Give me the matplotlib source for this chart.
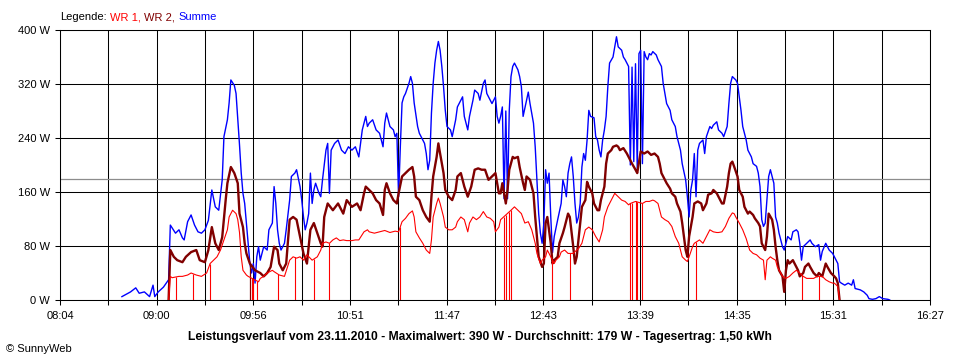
import matplotlib
matplotlib.use("Agg")
import matplotlib.pyplot as plt
import numpy as np

summe = [
    ("08:40", 5), ("08:45", 12), ("08:48", 18), ("08:50", 10), ("08:53", 12), ("08:56", 5),
    ("08:58", 22), ("08:59", 5), ("09:01", 12), ("09:04", 19), ("09:07", 30), ("09:08", 111),
    ("09:09", 107), ("09:11", 99), ("09:13", 104), ("09:15", 92), ("09:16", 89), ("09:18", 116),
    ("09:20", 126), ("09:22", 111), ("09:24", 101), ("09:26", 99), ("09:28", 104), ("09:30", 118),
    ("09:32", 163), ("09:34", 138), ("09:36", 133), ("09:38", 178), ("09:39", 242), ("09:41", 267),
    ("09:42", 292), ("09:43", 326), ("09:45", 318), ("09:46", 306), ("09:48", 230), ("09:49", 188),
    ("09:50", 158), ("09:51", 143), ("09:52", 114), ("09:53", 84), ("09:54", 54), ("09:55", 40),
    ("09:56", 54), ("09:57", 25), ("09:58", 64), ("09:59", 79), ("10:00", 59), ("10:01", 69),
    ("10:02", 79), ("10:04", 74), ("10:05", 104), ("10:07", 114), ("10:08", 168), ("10:09", 143),
    ("10:10", 104), ("10:11", 84), ("10:12", 74), ("10:14", 84), ("10:15", 104), ("10:17", 148),
    ("10:18", 183), ("10:20", 188), ("10:21", 193), ("10:23", 168), ("10:24", 148), ("10:25", 123),
    ("10:26", 104), ("10:27", 114), ("10:28", 128), ("10:29", 188), ("10:30", 143), ("10:31", 163),
    ("10:32", 173), ("10:34", 158), ("10:35", 153), ("10:36", 178), ("10:38", 222), ("10:39", 232),
    ("10:40", 158), ("10:41", 222), ("10:43", 232), ("10:45", 237), ("10:47", 222), ("10:49", 217),
    ("10:51", 227), ("10:53", 222), ("10:55", 227), ("10:57", 212), ("10:58", 232), ("10:59", 252),
    ("11:01", 272), ("11:02", 257), ("11:03", 262), ("11:05", 267), ("11:07", 252), ("11:09", 247),
    ("11:11", 227), ("11:12", 262), ("11:13", 277), ("11:15", 257), ("11:17", 252), ("11:18", 242),
    ("11:19", 247), ("11:20", 153), ("11:21", 227), ("11:22", 292), ("11:23", 301), ("11:24", 306),
    ("11:26", 321), ("11:27", 331), ("11:28", 321), ("11:29", 292), ("11:31", 257), ("11:32", 247),
    ("11:33", 242), ("11:35", 232), ("11:36", 217), ("11:37", 193), ("11:38", 207), ("11:39", 277),
    ("11:40", 321), ("11:41", 351), ("11:42", 370), ("11:43", 383), ("11:44", 370), ("11:45", 346),
    ("11:46", 316), ("11:47", 281), ("11:48", 257), ("11:50", 252), ("11:51", 242), ("11:53", 267),
    ("11:54", 286), ("11:56", 296), ("11:57", 301), ("11:58", 272), ("12:00", 252), ("12:01", 272),
    ("12:03", 296), ("12:04", 311), ("12:06", 306), ("12:07", 296), ("12:09", 321), ("12:10", 326),
    ("12:11", 306), ("12:13", 296), ("12:14", 291), ("12:16", 301), ("12:17", 272), ("12:18", 262),
    ("12:19", 272), ("12:20", 286), ("12:21", 150), ("12:22", 280), ("12:23", 150), ("12:24", 281),
    ("12:25", 331), ("12:26", 346), ("12:27", 351), ("12:29", 341), ("12:30", 331), ("12:31", 316),
    ("12:32", 272), ("12:34", 296), ("12:35", 308), ("12:36", 291), ("12:38", 262), ("12:39", 227),
    ("12:40", 178), ("12:41", 128), ("12:42", 99), ("12:43", 84), ("12:44", 114), ("12:45", 193),
    ("12:46", 173), ("12:47", 188), ("12:48", 123), ("12:49", 70), ("12:50", 94), ("12:52", 119),
    ("12:54", 143), ("12:55", 178), ("12:56", 168), ("12:57", 153), ("12:58", 188), ("12:59", 202),
    ("13:00", 212), ("13:01", 183), ("13:02", 143), ("13:03", 114), ("13:04", 123), ("13:05", 143),
    ("13:06", 197), ("13:07", 217), ("13:08", 207), ("13:09", 237), ("13:10", 281), ("13:11", 272),
    ("13:13", 270), ("13:14", 242), ("13:15", 237), ("13:16", 222), ("13:17", 212), ("13:18", 237),
    ("13:19", 252), ("13:20", 272), ("13:21", 316), ("13:22", 351), ("13:24", 360), ("13:25", 375),
    ("13:26", 390), ("13:27", 375), ("13:29", 370), ("13:30", 360), ("13:31", 356), ("13:33", 346),
    ("13:34", 200), ("13:35", 345), ("13:36", 205), ("13:37", 350), ("13:38", 195), ("13:39", 365),
    ("13:40", 370), ("13:41", 202), ("13:42", 368), ("13:43", 360), ("13:44", 356), ("13:45", 365),
    ("13:46", 363), ("13:47", 368), ("13:49", 363), ("13:50", 356), ("13:52", 346), ("13:53", 321),
    ("13:54", 306), ("13:55", 291), ("13:57", 281), ("13:58", 267), ("14:00", 257), ("14:01", 242),
    ("14:03", 222), ("14:04", 202), ("14:06", 178), ("14:07", 153), ("14:08", 123), ("14:09", 163),
    ("14:10", 178), ("14:11", 217), ("14:12", 153), ("14:13", 222), ("14:14", 232), ("14:16", 237),
    ("14:17", 217), ("14:18", 242), ("14:20", 257), ("14:21", 254), ("14:22", 259), ("14:24", 264),
    ("14:25", 252), ("14:27", 247), ("14:28", 242), ("14:30", 257), ("14:31", 291), ("14:32", 321),
    ("14:33", 331), ("14:35", 326), ("14:36", 321), ("14:37", 301), ("14:38", 281), ("14:39", 257),
    ("14:41", 237), ("14:42", 222), ("14:44", 212), ("14:45", 202), ("14:47", 198), ("14:48", 188),
    ("14:49", 168), ("14:50", 119), ("14:51", 109), ("14:52", 114), ("14:53", 148), ("14:54", 183),
    ("14:55", 193), ("14:56", 183), ("14:57", 173), ("14:58", 123), ("14:59", 114), ("15:00", 99),
    ("15:02", 79), ("15:03", 74), ("15:04", 84), ("15:05", 94), ("15:07", 89), ("15:08", 101),
    ("15:10", 104), ("15:11", 101), ("15:12", 84), ("15:13", 59), ("15:14", 79), ("15:16", 84),
    ("15:18", 89), ("15:19", 84), ("15:21", 79), ("15:23", 82), ("15:24", 59), ("15:25", 72),
    ("15:27", 84), ("15:29", 74), ("15:31", 69), ("15:32", 64), ("15:34", 54), ("15:35", 27),
    ("15:36", 25), ("15:38", 22), ("15:40", 25), ("15:42", 22), ("15:43", 30), ("15:44", 17),
    ("15:47", 15), ("15:49", 12), ("15:51", 7), ("15:52", 2), ("15:54", 1), ("15:56", 2),
    ("15:58", 5), ("16:00", 2), ("16:03", 1), ("16:04", 0),
]

wr2 = [
    ("09:07", 0), ("09:08", 74), ("09:10", 64), ("09:12", 59), ("09:15", 56), ("09:17", 64),
    ("09:20", 71), ("09:23", 74), ("09:25", 59), ("09:28", 56), ("09:30", 74), ("09:32", 108),
    ("09:34", 84), ("09:36", 74), ("09:38", 93), ("09:40", 148), ("09:41", 173), ("09:43", 197),
    ("09:45", 188), ("09:47", 173), ("09:48", 128), ("09:50", 108), ("09:51", 84), ("09:52", 69),
    ("09:54", 54), ("09:57", 44), ("10:00", 40), ("10:02", 35), ("10:04", 40), ("10:06", 49),
    ("10:08", 79), ("10:10", 74), ("10:11", 54), ("10:13", 44), ("10:15", 54), ("10:17", 119),
    ("10:19", 123), ("10:21", 119), ("10:23", 94), ("10:25", 69), ("10:27", 54), ("10:29", 104),
    ("10:31", 114), ("10:33", 99), ("10:35", 84), ("10:36", 79), ("10:37", 123), ("10:39", 143),
    ("10:42", 133), ("10:45", 143), ("10:48", 128), ("10:50", 148), ("10:53", 138), ("10:56", 143),
    ("10:58", 133), ("11:00", 158), ("11:01", 168), ("11:03", 163), ("11:05", 158), ("11:07", 148),
    ("11:09", 143), ("11:11", 126), ("11:12", 163), ("11:13", 173), ("11:15", 158), ("11:17", 148),
    ("11:19", 143), ("11:20", 158), ("11:22", 183), ("11:24", 188), ("11:26", 193), ("11:28", 197),
    ("11:29", 183), ("11:30", 153), ("11:32", 148), ("11:34", 133), ("11:36", 123), ("11:38", 116),
    ("11:39", 153), ("11:40", 183), ("11:42", 212), ("11:43", 232), ("11:44", 217), ("11:46", 188),
    ("11:47", 163), ("11:49", 153), ("11:51", 148), ("11:53", 163), ("11:54", 183), ("11:56", 188),
    ("11:58", 168), ("12:00", 153), ("12:02", 168), ("12:04", 193), ("12:06", 195), ("12:08", 193),
    ("12:10", 193), ("12:12", 178), ("12:14", 183), ("12:16", 188), ("12:18", 158), ("12:19", 158),
    ("12:20", 173), ("12:22", 143), ("12:23", 163), ("12:24", 193), ("12:26", 212), ("12:27", 210),
    ("12:29", 212), ("12:30", 197), ("12:32", 173), ("12:33", 163), ("12:34", 183), ("12:36", 178),
    ("12:38", 158), ("12:39", 123), ("12:40", 94), ("12:41", 64), ("12:43", 49), ("12:44", 54),
    ("12:45", 114), ("12:46", 123), ("12:47", 104), ("12:48", 84), ("12:49", 54), ("12:50", 59),
    ("12:52", 64), ("12:53", 84), ("12:55", 99), ("12:56", 108), ("12:58", 128), ("12:59", 123),
    ("13:01", 79), ("13:02", 54), ("13:03", 64), ("13:05", 114), ("13:06", 138), ("13:08", 148),
    ("13:09", 175), ("13:10", 168), ("13:12", 158), ("13:13", 143), ("13:15", 133), ("13:16", 133),
    ("13:17", 148), ("13:19", 168), ("13:20", 202), ("13:21", 217), ("13:23", 222), ("13:24", 227),
    ("13:26", 229), ("13:27", 227), ("13:28", 222), ("13:30", 225), ("13:32", 217), ("13:33", 212),
    ("13:35", 202), ("13:37", 193), ("13:38", 188), ("13:40", 220), ("13:42", 217), ("13:44", 220),
    ("13:46", 215), ("13:48", 217), ("13:50", 212), ("13:51", 202), ("13:52", 188), ("13:54", 178),
    ("13:55", 173), ("13:57", 165), ("13:58", 158), ("14:00", 153), ("14:01", 143), ("14:03", 131),
    ("14:04", 114), ("14:05", 94), ("14:06", 74), ("14:07", 64), ("14:08", 94), ("14:10", 123),
    ("14:11", 143), ("14:13", 146), ("14:15", 143), ("14:16", 133), ("14:18", 143), ("14:19", 156),
    ("14:21", 158), ("14:22", 163), ("14:24", 158), ("14:25", 153), ("14:27", 143), ("14:28", 143),
    ("14:30", 168), ("14:31", 188), ("14:32", 202), ("14:33", 205), ("14:34", 198), ("14:36", 183),
    ("14:37", 163), ("14:39", 153), ("14:40", 138), ("14:42", 128), ("14:43", 131), ("14:45", 126),
    ("14:46", 121), ("14:48", 114), ("14:49", 109), ("14:50", 84), ("14:51", 79), ("14:52", 74),
    ("14:53", 94), ("14:54", 128), ("14:56", 119), ("14:57", 104), ("14:58", 79), ("14:59", 59),
    ("15:00", 44), ("15:02", 35), ("15:03", 12), ("15:04", 44), ("15:05", 59), ("15:06", 54),
    ("15:08", 59), ("15:09", 54), ("15:11", 44), ("15:12", 35), ("15:14", 40), ("15:15", 49),
    ("15:17", 54), ("15:18", 49), ("15:20", 40), ("15:22", 35), ("15:23", 40), ("15:25", 35),
    ("15:27", 54), ("15:28", 49), ("15:30", 40), ("15:32", 35), ("15:33", 32), ("15:34", 25),
    ("15:35", 0),
]

wr1 = [
    ("09:07", 0), ("09:08", 35), ("09:09", 33), ("09:13", 35), ("09:15", 35), ("09:18", 37),
    ("09:20", 40), ("09:23", 37), ("09:26", 35), ("09:29", 40), ("09:31", 54), ("09:33", 59),
    ("09:35", 64), ("09:37", 74), ("09:39", 89), ("09:41", 104), ("09:42", 123), ("09:44", 133),
    ("09:46", 128), ("09:47", 119), ("09:48", 100), ("09:49", 64), ("09:50", 44), ("09:52", 37),
    ("09:53", 35), ("09:59", 27), ("10:00", 32), ("10:02", 35), ("10:04", 40), ("10:07", 44),
    ("10:08", 42), ("10:11", 37), ("10:14", 35), ("10:17", 59), ("10:19", 64), ("10:21", 62),
    ("10:23", 64), ("10:25", 59), ("10:27", 67), ("10:30", 59), ("10:33", 64), ("10:35", 74),
    ("10:36", 84), ("10:38", 86), ("10:40", 84), ("10:42", 89), ("10:44", 92), ("10:46", 88),
    ("10:48", 89), ("10:50", 88), ("10:53", 88), ("10:55", 89), ("10:57", 89), ("11:00", 101),
    ("11:02", 104), ("11:03", 101), ("11:06", 99), ("11:09", 101), ("11:12", 103), ("11:15", 100),
    ("11:18", 102), ("11:20", 101), ("11:22", 116), ("11:24", 121), ("11:26", 128), ("11:28", 132),
    ("11:29", 123), ("11:30", 101), ("11:32", 92), ("11:34", 84), ("11:36", 74), ("11:38", 69),
    ("11:39", 89), ("11:40", 123), ("11:42", 143), ("11:43", 151), ("11:44", 143), ("11:46", 123),
    ("11:47", 108), ("11:49", 104), ("11:51", 104), ("11:53", 108), ("11:54", 116), ("11:56", 123),
    ("11:58", 119), ("12:00", 101), ("12:01", 114), ("12:03", 123), ("12:05", 119), ("12:07", 123),
    ("12:09", 131), ("12:11", 123), ("12:13", 121), ("12:15", 116), ("12:16", 101), ("12:18", 108),
    ("12:19", 119), ("12:25", 133), ("12:27", 138), ("12:29", 133), ("12:31", 128), ("12:33", 114),
    ("12:35", 116), ("12:37", 104), ("12:39", 84), ("12:40", 69), ("12:42", 54), ("12:43", 59),
    ("12:45", 64), ("12:46", 74), ("12:48", 64), ("12:50", 54), ("12:51", 59), ("12:53", 64),
    ("12:54", 71), ("12:56", 74), ("12:58", 69), ("13:01", 69), ("13:03", 74), ("13:04", 76),
    ("13:06", 84), ("13:08", 104), ("13:10", 108), ("13:12", 104), ("13:14", 94), ("13:16", 86),
    ("13:18", 104), ("13:19", 123), ("13:21", 138), ("13:23", 148), ("13:25", 158), ("13:27", 153),
    ("13:29", 148), ("13:31", 146), ("13:33", 141), ("13:34", 143), ("13:37", 146), ("13:41", 143),
    ("13:43", 146), ("13:45", 146), ("13:47", 148), ("13:48", 147), ("13:50", 143), ("13:51", 133),
    ("13:52", 123), ("13:54", 119), ("13:56", 116), ("13:58", 109), ("14:00", 94), ("14:02", 84),
    ("14:03", 74), ("14:04", 64), ("14:06", 59), ("14:07", 57), ("14:08", 64), ("14:10", 79),
    ("14:11", 84), ("14:14", 89), ("14:16", 84), ("14:18", 94), ("14:20", 104), ("14:22", 101),
    ("14:24", 100), ("14:25", 100), ("14:27", 101), ("14:29", 109), ("14:31", 121), ("14:33", 129),
    ("14:34", 128), ("14:35", 123), ("14:37", 114), ("14:39", 104), ("14:41", 91), ("14:43", 74),
    ("14:45", 69), ("14:47", 67), ("14:49", 62), ("14:51", 59), ("14:52", 30), ("14:53", 59),
    ("14:55", 64), ("14:56", 62), ("14:58", 59), ("14:59", 49), ("15:01", 40), ("15:02", 35),
    ("15:04", 32), ("15:06", 35), ("15:08", 40), ("15:10", 44), ("15:12", 40), ("15:14", 35),
    ("15:16", 32), ("15:18", 32), ("15:20", 32), ("15:22", 35), ("15:25", 35), ("15:27", 30),
    ("15:29", 27), ("15:31", 25), ("15:32", 25), ("15:34", 20), ("15:35", 0),
]

# short drops to 0 W
wr1_dropouts = ["09:11", "09:21", "09:31", "09:55", "09:56", "09:58", "10:10", "10:20", "10:31",
                "10:40", "11:21", "12:21", "12:22", "12:24", "12:25", "12:49", "12:59", "13:34",
                "13:35", "13:37", "13:38", "13:41", "14:12", "15:13", "15:23"]
wr2_dropouts = ["09:54"]

x_labels = ["08:04", "09:00", "09:56", "10:51", "11:47", "12:43", "13:39", "14:35", "15:31", "16:27"]
x_start, x_end = 484.2, 987.3  # minutes after midnight (08:04:12 .. 16:27:18)
y_ticks = [0, 80, 160, 240, 320, 400]
avg_w = 179
title = ("Leistungsverlauf vom 23.11.2010 - Maximalwert: 390 W - Durchschnitt: 179 W"
         " - Tagesertrag: 1,50 kWh")

C_WR1, C_WR2, C_SUM = "#ff0000", "#800000", "#0000ff"


def to_min(s):
    h, m = s.split(":")
    return int(h) * 60 + int(m)


def unpack(series):
    t = np.array([to_min(a) for a, _ in series], dtype=float)
    v = np.array([b for _, b in series], dtype=float)
    return t, v


plt.rcParams["font.family"] = ["Liberation Sans", "DejaVu Sans"]

fig = plt.figure(figsize=(9.6, 3.6), dpi=100)
ax = fig.add_axes([60 / 960, 1 - 300 / 360, 870 / 960, 270 / 360])

t1, v1 = unpack(wr1)
t2, v2 = unpack(wr2)
ts, vs = unpack(summe)

ax.axhline(avg_w, color="#8c8c8c", lw=0.9, zorder=1.5)

d1 = np.array([to_min(s) for s in wr1_dropouts], dtype=float)
d2 = np.array([to_min(s) for s in wr2_dropouts], dtype=float)
ax.vlines(d1, 0, np.interp(d1, t1, v1), color=C_WR1, lw=0.8, zorder=3)
ax.vlines(d2, 0, np.interp(d2, t2, v2), color=C_WR2, lw=0.9, zorder=2.5)

ax.plot(ts, vs, color=C_SUM, lw=1.0, zorder=2)
ax.plot(t2, v2, color=C_WR2, lw=1.7, zorder=2.5)
ax.plot(t1, v1, color=C_WR1, lw=0.8, zorder=3)

ax.set_xlim(x_start, x_end)
ax.set_ylim(0, 400)
major = np.linspace(x_start, x_end, len(x_labels))
minor = (major[:-1] + major[1:]) / 2
ax.set_xticks(major)
ax.set_xticklabels(x_labels)
ax.set_xticks(minor, minor=True)
ax.set_yticks(y_ticks)
ax.set_yticklabels([f"{v} W" for v in y_ticks])

ax.grid(which="both", color="black", lw=0.75)
ax.set_axisbelow(True)
for sp in ax.spines.values():
    sp.set_color("black")
    sp.set_linewidth(0.75)
ax.tick_params(which="both", direction="out", length=3.6, width=0.75, color="black")
ax.tick_params(axis="x", which="both", pad=4.5, labelsize=8)
ax.tick_params(axis="y", pad=3.6, labelsize=8)

# legend line at the top: "Legende: WR 1, WR 2, Summe"
renderer = fig.canvas.get_renderer()
x = 60 / 960
for txt, col in [("Legende:", "black"), ("WR 1,", C_WR1), ("WR 2,", C_WR2), ("Summe", C_SUM)]:
    t = fig.text(x, 1 - 17 / 360, txt, color=col, fontsize=8, va="center", ha="left")
    bb = t.get_window_extent(renderer)
    x = (bb.x1 + 3.5) / fig.bbox.width

fig.text(0.5, 1 - 337 / 360, title, fontsize=8.7, fontweight="bold", ha="center", va="center")
fig.text(6 / 960, 1 - 349 / 360, "\u00a9 SunnyWeb", fontsize=8, ha="left", va="center")

fig.savefig("out.png", dpi=100)
